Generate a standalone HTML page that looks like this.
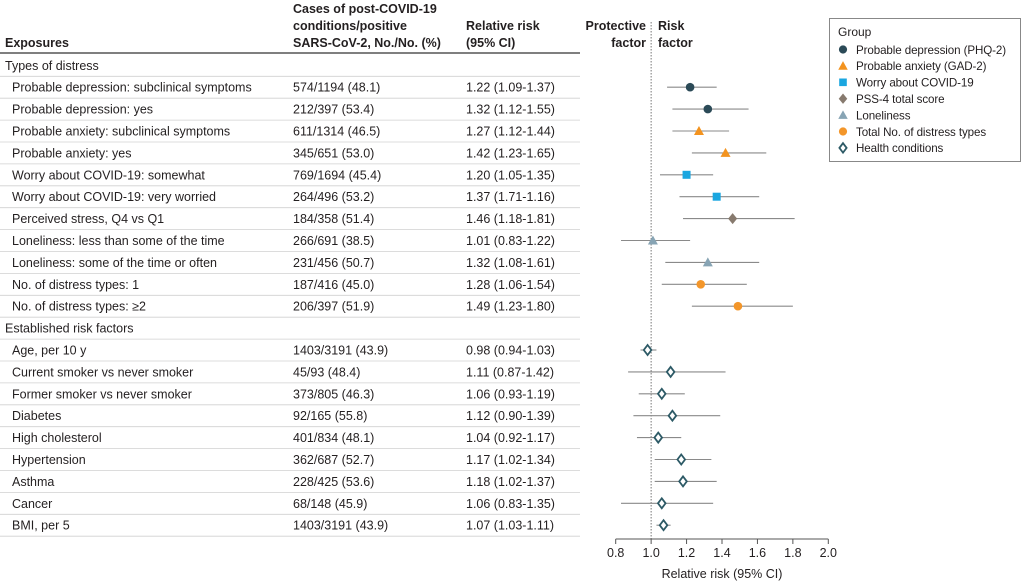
<!DOCTYPE html>
<html><head><meta charset="utf-8"><style>
body{margin:0;background:#fff;width:1024px;height:582px;overflow:hidden}
svg{font-family:"Liberation Sans",sans-serif;display:block}
text{fill:#231f20}
</style></head><body>
<svg id="c" width="1024" height="582" viewBox="0 0 1024 582">
<g font-size="12.5" font-weight="bold" fill="#231f20">
<text x="5" y="47">Exposures</text>
<text x="293" y="13">Cases of post-COVID-19</text>
<text x="293" y="30">conditions/positive</text>
<text x="293" y="47">SARS-CoV-2, No./No. (%)</text>
<text x="466" y="30">Relative risk</text>
<text x="466" y="47">(95% CI)</text>
<text x="646" y="30" text-anchor="end">Protective</text>
<text x="646" y="47" text-anchor="end">factor</text>
<text x="658" y="30">Risk</text>
<text x="658" y="47">factor</text>
</g>
<line x1="0" x2="580" y1="53" y2="53" stroke="#555" stroke-width="1.5"/>
<g id="rows"></g>
<g id="plot"></g>
<g id="legend"></g>
</svg>
<script>
const labels=["Types of distress","Probable depression: subclinical symptoms","Probable depression: yes","Probable anxiety: subclinical symptoms","Probable anxiety: yes","Worry about COVID-19: somewhat","Worry about COVID-19: very worried","Perceived stress, Q4 vs Q1","Loneliness: less than some of the time","Loneliness: some of the time or often","No. of distress types: 1","No. of distress types: ≥2","Established risk factors","Age, per 10 y","Current smoker vs never smoker","Former smoker vs never smoker","Diabetes","High cholesterol","Hypertension","Asthma","Cancer","BMI, per 5"];
const cases=["","574/1194 (48.1)","212/397 (53.4)","611/1314 (46.5)","345/651 (53.0)","769/1694 (45.4)","264/496 (53.2)","184/358 (51.4)","266/691 (38.5)","231/456 (50.7)","187/416 (45.0)","206/397 (51.9)","","1403/3191 (43.9)","45/93 (48.4)","373/805 (46.3)","92/165 (55.8)","401/834 (48.1)","362/687 (52.7)","228/425 (53.6)","68/148 (45.9)","1403/3191 (43.9)"];
const rrText=["","1.22 (1.09-1.37)","1.32 (1.12-1.55)","1.27 (1.12-1.44)","1.42 (1.23-1.65)","1.20 (1.05-1.35)","1.37 (1.71-1.16)","1.46 (1.18-1.81)","1.01 (0.83-1.22)","1.32 (1.08-1.61)","1.28 (1.06-1.54)","1.49 (1.23-1.80)","","0.98 (0.94-1.03)","1.11 (0.87-1.42)","1.06 (0.93-1.19)","1.12 (0.90-1.39)","1.04 (0.92-1.17)","1.17 (1.02-1.34)","1.18 (1.02-1.37)","1.06 (0.83-1.35)","1.07 (1.03-1.11)"];
const rr=[null,1.22,1.32,1.27,1.42,1.20,1.37,1.46,1.01,1.32,1.28,1.49,null,0.98,1.11,1.06,1.12,1.04,1.17,1.18,1.06,1.07];
const lo=[null,1.09,1.12,1.12,1.23,1.05,1.16,1.18,0.83,1.08,1.06,1.23,null,0.94,0.87,0.93,0.90,0.92,1.02,1.02,0.83,1.03];
const hi=[null,1.37,1.55,1.44,1.65,1.35,1.61,1.81,1.22,1.61,1.54,1.80,null,1.03,1.42,1.19,1.39,1.17,1.34,1.37,1.35,1.11];
const groups=[null,0,0,1,1,2,2,3,4,4,5,5,null,6,6,6,6,6,6,6,6,6];
const ticks=[0.8,1.0,1.2,1.4,1.6,1.8,2.0];
const tickLabels=["0.8","1.0","1.2","1.4","1.6","1.8","2.0"];
const groupNames=["Probable depression (PHQ-2)","Probable anxiety (GAD-2)","Worry about COVID-19","PSS-4 total score","Loneliness","Total No. of distress types","Health conditions"];
const NS="http://www.w3.org/2000/svg";
const X=v=>615.7+(v-0.8)*(828.3-615.7)/1.2;
const Y=i=>65.3+i*21.9;
function mk(t,a,p){const e=document.createElementNS(NS,t);for(const k in a)e.setAttribute(k,a[k]);p.appendChild(e);return e;}
const colors=["#2b4a57","#f3931f","#1aa6e0","#877a6e","#87a4b4","#f3962a","#2d5a66"];
function marker(g,x,y,p,s){
 let e;
 if(g===0||g===5)e=mk('circle',{cx:x,cy:y,r:4.3*s,fill:colors[g]},p);
 else if(g===1||g===4)e=mk('polygon',{points:`${x},${y-5*s} ${x+5*s},${y+4*s} ${x-5*s},${y+4*s}`,fill:colors[g]},p);
 else if(g===2)e=mk('rect',{x:x-4*s,y:y-4*s,width:8*s,height:8*s,fill:colors[g]},p);
 else if(g===3)e=mk('polygon',{points:`${x},${y-5.5*s} ${x+4.5*s},${y} ${x},${y+5.5*s} ${x-4.5*s},${y}`,fill:colors[g]},p);
 else e=mk('polygon',{points:`${x},${y-5*s} ${x+3.8*s},${y} ${x},${y+5*s} ${x-3.8*s},${y}`,fill:"#fff",stroke:colors[g],"stroke-width":1.8},p);
 return e;
}
const rows=document.getElementById('rows');
labels.forEach((l,i)=>{
 const y=Y(i);
 const head=rr[i]===null;
 let t=mk('text',{x:head?5:12,y:y+4.5,"font-size":12.5},rows);t.textContent=l;
 
 
 if(!head){
  t=mk('text',{x:293,y:y+4.5,"font-size":12.5},rows);t.textContent=cases[i];
  
  
  t=mk('text',{x:466,y:y+4.5,"font-size":12.5},rows);t.textContent=rrText[i];
  
  
 }
 const ln=mk('line',{x1:0,x2:580,y1:y+11,y2:y+11,stroke:"#d0d0d0","stroke-width":0.8},rows);
 
 
});
const plot=document.getElementById('plot');
const ref=mk('line',{x1:X(1),x2:X(1),y1:22,y2:539,stroke:"#777","stroke-width":1,"stroke-dasharray":"1.5,1.5"},plot);


rr.forEach((v,i)=>{
 if(v===null)return;
 const y=Y(i);
 const c=mk('line',{x1:X(lo[i]),x2:X(hi[i]),y1:y,y2:y,stroke:"#8a8a8a","stroke-width":1.1},plot);
 
 
 const m=marker(groups[i],X(v),y,plot,1);
 
 
});
const ax=mk('line',{x1:X(0.8),x2:X(2.0),y1:539,y2:539,stroke:"#555","stroke-width":1},plot);


ticks.forEach((v,k)=>{
 const tl=mk('line',{x1:X(v),x2:X(v),y1:539,y2:544,stroke:"#555"},plot);
 
 
 const t=mk('text',{x:X(v),y:557,"font-size":12.5,"text-anchor":"middle"},plot);t.textContent=tickLabels[k];
 
 
});
const xt=mk('text',{x:X(1.4),y:578,"font-size":12.5,"text-anchor":"middle"},plot);xt.textContent="Relative risk (95% CI)";


const lg=document.getElementById('legend');
const box=mk('rect',{x:829.5,y:18.5,width:191,height:143,fill:"#fff",stroke:"#888","stroke-width":1},lg);


const lt=mk('text',{x:838,y:36,"font-size":12},lg);lt.textContent="Group";


groupNames.forEach((n,g)=>{
 const y=49.5+g*16.4;
 const m=marker(g,843,y,lg,0.95);
 
 
 const t=mk('text',{x:856,y:y+4.3,"font-size":11.6,"letter-spacing":"-0.1"},lg);t.textContent=n;
 
 
});
</script>
</body></html>
